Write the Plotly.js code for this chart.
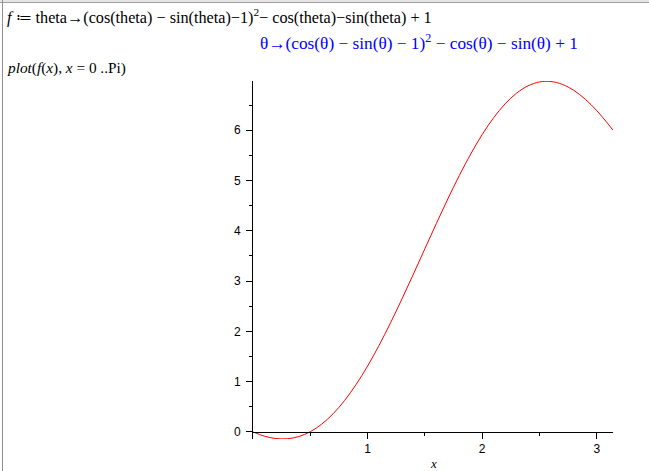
<!DOCTYPE html>
<html>
<head>
<meta charset="utf-8">
<script src="https://cdn.plot.ly/plotly-3.0.1.min.js"></script>
<style>
html,body{margin:0;padding:0;background:#fff;}
#chart{width:649px;height:471px;}
</style>
</head>
<body>
<div id="chart"></div>
<script>
// Values (x from 0 to Pi)
var xValues = [0, 0.1, 0.2, 0.3, 0.4, 0.5, 0.6, 0.7, 0.8, 0.9, 1.0, 1.1, 1.2, 1.3, 1.4, 1.5, 1.6, 1.7, 1.8, 1.9, 2.0, 2.1, 2.2, 2.3, 2.4, 2.5, 2.6, 2.7, 2.8, 2.9, 3.0, 3.1, 3.14159];
var yValues = [0, -0.084, -0.131, -0.135, -0.091, 0.005, 0.157, 0.364, 0.628, 0.945, 1.311, 1.722, 2.170, 2.646, 3.141, 3.644, 4.146, 4.634, 5.098, 5.528, 5.915, 6.249, 6.526, 6.738, 6.884, 6.961, 6.970, 6.912, 6.793, 6.617, 6.391, 6.122, 6.0];
var xTickVals = [1, 2, 3];
var yTickVals = [0, 1, 2, 3, 4, 5, 6];

var L = 253, R = 613, T = 81, B = 439;
var W = 649, H = 471;
var pw = R - L, ph = B - T;
function px(p){ return (p - L) / pw; }
function py(p){ return (B - p) / ph; }

var yMin = -0.14, yMax = 6.98;

var trace = {
  x: xValues, y: yValues, type: 'scatter', mode: 'lines',
  line: {color: '#ff0000', width: 1, shape: 'spline'},
  hoverinfo: 'none'
};

var serif = 'Liberation Serif, Times New Roman, serif';

var layout = {
  width: W, height: H,
  margin: {l: L, r: W - R, t: T, b: H - B, pad: 0},
  paper_bgcolor: '#ffffff', plot_bgcolor: '#ffffff',
  showlegend: false,
  xaxis: {
    range: [0, Math.PI], anchor: 'free', position: (0 - yMin) / (yMax - yMin),
    showline: true, linecolor: '#000', linewidth: 1,
    showgrid: false, zeroline: false,
    tickmode: 'array', tickvals: xTickVals, ticktext: xTickVals.map(String),
    ticks: 'outside', ticklen: 6, tickwidth: 1, tickcolor: '#000',
    minor: {tickmode: 'array', tickvals: [0.5, 1.5, 2.5], ticks: 'outside', ticklen: 3, tickcolor: '#000', tickwidth: 1, showgrid: false},
    tickfont: {family: 'Liberation Sans, Arial, sans-serif', size: 12, color: '#000'},
    fixedrange: true
  },
  yaxis: {
    range: [yMin, yMax],
    showline: true, linecolor: '#000', linewidth: 1,
    showgrid: false, zeroline: false,
    tickmode: 'array', tickvals: yTickVals, ticktext: yTickVals.map(String),
    ticks: 'outside', ticklen: 6, tickwidth: 1, tickcolor: '#000',
    minor: {tickmode: 'array', tickvals: [0.5, 1.5, 2.5, 3.5, 4.5, 5.5, 6.5], ticks: 'outside', ticklen: 3, tickcolor: '#000', tickwidth: 1, showgrid: false},
    tickfont: {family: 'Liberation Sans, Arial, sans-serif', size: 12, color: '#000'},
    ticklabelstandoff: 3,
    fixedrange: true
  },
  shapes: [
    {type: 'rect', xref: 'paper', yref: 'paper', x0: px(0), x1: px(W), y0: py(0), y1: py(2), fillcolor: '#e6e6e6', line: {width: 0}, layer: 'below'},
    {type: 'line', xref: 'paper', yref: 'paper', x0: px(0), x1: px(W), y0: py(2.5), y1: py(2.5), line: {color: '#a0a0a0', width: 1}},
    {type: 'line', xref: 'paper', yref: 'paper', x0: px(2.5), x1: px(2.5), y0: py(0), y1: py(H), line: {color: '#909090', width: 1}}
  ],
  annotations: [
    {xref: 'paper', yref: 'paper', x: px(5), y: py(17), xanchor: 'left', yanchor: 'middle', showarrow: false,
     text: '<i>f</i> ≔ theta→(cos(theta) − sin(theta)−1)<sup>2</sup>− cos(theta)−sin(theta) + 1',
     font: {family: serif, size: 16.2, color: '#000'}},
    {xref: 'paper', yref: 'paper', x: px(258), y: py(42), xanchor: 'left', yanchor: 'middle', showarrow: false,
     text: 'θ→(cos(θ) − sin(θ) − 1)<sup>2</sup> − cos(θ) − sin(θ) + 1',
     font: {family: serif, size: 17.3, color: '#0000ff'}},
    {xref: 'paper', yref: 'paper', x: px(5), y: py(68), xanchor: 'left', yanchor: 'middle', showarrow: false,
     text: '<i>plot</i>(<i>f</i>(<i>x</i>), <i>x</i> = 0 ..Pi)',
     font: {family: serif, size: 15.3, color: '#000'}},
    {xref: 'x', yref: 'paper', x: Math.PI / 2, y: py(463), xanchor: 'center', yanchor: 'middle', showarrow: false,
     text: '<i>x</i>', font: {family: serif, size: 13, color: '#000'}}
  ]
};

Plotly.newPlot('chart', [trace], layout, {displayModeBar: false, staticPlot: true});
</script>
</body>
</html>
